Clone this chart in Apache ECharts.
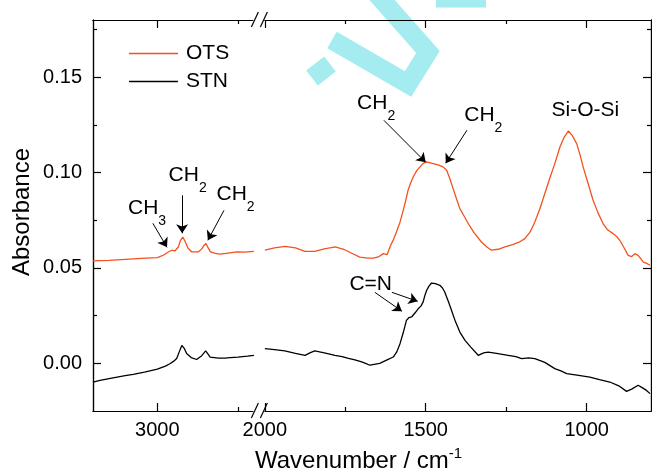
<!DOCTYPE html>
<html>
<head>
<meta charset="utf-8">
<script src="https://cdn.jsdelivr.net/npm/echarts@6/dist/echarts.min.js"></script>
<style>
  html, body { margin: 0; padding: 0; background: #fff; }
  #chart { width: 652px; height: 473px; }
</style>
</head>
<body>
<div id="chart"></div>
<script>
// wavenumber (cm-1) and absorbance
const otsLeftWn  = [3200, 3150, 3100, 3050, 3000, 2980, 2965, 2955, 2945, 2935, 2928, 2921, 2914, 2905, 2893, 2873, 2862, 2856, 2849, 2842, 2835, 2820, 2805, 2780, 2753, 2730, 2700]
const otsLeftAbs = [0.0537, 0.0540, 0.0545, 0.0550, 0.0554, 0.0568, 0.0585, 0.0593, 0.0590, 0.0610, 0.0645, 0.0662, 0.0640, 0.0605, 0.0584, 0.0584, 0.0600, 0.0616, 0.0628, 0.0605, 0.0584, 0.0576, 0.0572, 0.0578, 0.0584, 0.0583, 0.0587]

const stnLeftWn  = [3200, 3178, 3150, 3100, 3075, 3040, 3000, 2975, 2961, 2950, 2940, 2932, 2924, 2917, 2909, 2895, 2878, 2862, 2850, 2843, 2836, 2810, 2785, 2750, 2720, 2700]
const stnLeftAbs = [-0.0098, -0.0089, -0.0080, -0.0065, -0.0058, -0.0046, -0.0031, -0.0015, -0.0002, 0.0010, 0.0025, 0.0060, 0.0094, 0.0080, 0.0051, 0.0030, 0.0020, 0.0040, 0.0065, 0.0050, 0.0033, 0.0027, 0.0028, 0.0033, 0.0038, 0.0042]

const otsRightWn  = [2000, 1970, 1937, 1905, 1875, 1845, 1815, 1781, 1755, 1730, 1705, 1680, 1663, 1645, 1632, 1620, 1614, 1609, 1600, 1591, 1580, 1570, 1562, 1555, 1547, 1539, 1528, 1518, 1508, 1498, 1488, 1477, 1462, 1446, 1435, 1425, 1415, 1404, 1394, 1380, 1368, 1350, 1327, 1310, 1296, 1275, 1254, 1230, 1210, 1192, 1175, 1161, 1145, 1130, 1115, 1099, 1083, 1070, 1057, 1045, 1031, 1020, 1011, 995, 980, 965, 949, 935, 918, 905, 897, 885, 871, 860, 850, 840, 830, 824, 815, 803]
const otsRightAbs = [0.0593, 0.0605, 0.0613, 0.0605, 0.0587, 0.0587, 0.0600, 0.0610, 0.0598, 0.0577, 0.0557, 0.0552, 0.0552, 0.0560, 0.0575, 0.0570, 0.0566, 0.0619, 0.0650, 0.0689, 0.0740, 0.0802, 0.0855, 0.0907, 0.0945, 0.0977, 0.1010, 0.1030, 0.1048, 0.1056, 0.1052, 0.1047, 0.1040, 0.1030, 0.1012, 0.0968, 0.0916, 0.0860, 0.0811, 0.0770, 0.0733, 0.0685, 0.0636, 0.0610, 0.0593, 0.0598, 0.0610, 0.0622, 0.0635, 0.0654, 0.0690, 0.0741, 0.0812, 0.0890, 0.0968, 0.1047, 0.1134, 0.1185, 0.1218, 0.1195, 0.1152, 0.1090, 0.1030, 0.0940, 0.0855, 0.0790, 0.0733, 0.0700, 0.0680, 0.0662, 0.0645, 0.0610, 0.0566, 0.0560, 0.0575, 0.0566, 0.0545, 0.0531, 0.0525, 0.0514]

const stnRightWn  = [2000, 1970, 1938, 1905, 1875, 1860, 1845, 1815, 1782, 1760, 1740, 1720, 1699, 1685, 1674, 1660, 1643, 1620, 1601, 1590, 1580, 1570, 1560, 1552, 1544, 1533, 1523, 1515, 1508, 1502, 1497, 1490, 1482, 1470, 1456, 1448, 1441, 1430, 1420, 1408, 1394, 1378, 1360, 1337, 1320, 1306, 1280, 1244, 1220, 1202, 1180, 1161, 1130, 1099, 1080, 1062, 1030, 990, 960, 928, 900, 876, 860, 840, 825, 814, 803]
const stnRightAbs = [0.0077, 0.0072, 0.0065, 0.0052, 0.0042, 0.0055, 0.0065, 0.0055, 0.0042, 0.0035, 0.0026, 0.0018, 0.0007, -0.0002, -0.0010, -0.0005, 0.0000, 0.0018, 0.0033, 0.0060, 0.0103, 0.0160, 0.0225, 0.0240, 0.0243, 0.0265, 0.0287, 0.0300, 0.0322, 0.0360, 0.0383, 0.0405, 0.0421, 0.0418, 0.0409, 0.0395, 0.0374, 0.0325, 0.0278, 0.0220, 0.0164, 0.0120, 0.0085, 0.0042, 0.0055, 0.0059, 0.0052, 0.0042, 0.0035, 0.0025, 0.0028, 0.0025, 0.0005, -0.0028, -0.0040, -0.0054, -0.0062, -0.0072, -0.0085, -0.0098, -0.0118, -0.0147, -0.0135, -0.0115, -0.0130, -0.0142, -0.0159]

const xMajorTicks = [3000, 2000, 1500, 1000]
const xMinorTicks = [2750, 1750, 1250]
const yMajorTicks = [0, 0.05, 0.10, 0.15]
const yMinorTicks = [0.025, 0.075, 0.125, 0.175]

// annotations: [label, wavenumber, absorbance]
const peakLabels = [
  ['CH|3', 3032, 0.0788],
  ['CH|2', 2906, 0.0961],
  ['CH|2', 2757, 0.0861],
  ['CH|2', 1654, 0.1338],
  ['CH|2', 1321, 0.1276],
  ['Si-O-Si', 1004, 0.1327],
  ['C=N', 1671, 0.0414]
]
// arrows: [wn from, abs from, wn to, abs to]
const peakArrows = [
  [3014, 0.0734, 2970, 0.0608],
  [2923, 0.0881, 2923, 0.0682],
  [2793, 0.0802, 2843, 0.0645],
  [1630, 0.1274, 1500, 0.1054],
  [1372, 0.1222, 1438, 0.1049],
  [1658, 0.0372, 1574, 0.0273],
  [1605, 0.0372, 1525, 0.0325]
]

// broken axis: 3200-2700 on the left, 2000-800 on the right
const LEFT_START = 3200
const RIGHT_START = 2000
const GAP = 34
const BREAK_POS = 517
function toPos(w) {
  return w > 2350 ? LEFT_START - w : (LEFT_START - 2700) + GAP + (RIGHT_START - w)
}
function fromPos(p) {
  return p < BREAK_POS ? LEFT_START - p : RIGHT_START + (LEFT_START - 2700) + GAP - p
}
const X_MAX = toPos(800)

function pairs(wn, abs) {
  return wn.map((w, i) => [toPos(w), abs[i]])
}

const FONT = 'Liberation Sans, Arial, sans-serif'
const OTS_COLOR = '#f4511e'

const chart = echarts.init(document.getElementById('chart'))

function xAxisCfg(pos, ticks, len, labels) {
  return {
    type: 'value', position: pos, min: 0, max: X_MAX,
    axisLine: { show: true, onZero: false, lineStyle: { color: '#000', width: 1.2 } },
    axisTick: { show: true, inside: true, length: len, customValues: ticks.map(toPos), lineStyle: { color: '#000', width: 1.2 } },
    axisLabel: labels ? {
      show: true, customValues: ticks.map(toPos), margin: 9,
      color: '#000', fontSize: 20, fontFamily: FONT,
      formatter: v => String(Math.round(fromPos(v)))
    } : { show: false },
    splitLine: { show: false }
  }
}
function yAxisCfg(pos, ticks, len, labels) {
  return {
    type: 'value', position: pos, min: -0.025, max: 0.18,
    axisLine: { show: true, onZero: false, lineStyle: { color: '#000', width: 1.2 } },
    axisTick: { show: true, inside: true, length: len, customValues: ticks, lineStyle: { color: '#000', width: 1.2 } },
    axisLabel: labels ? {
      show: true, customValues: ticks, margin: 11,
      color: '#000', fontSize: 20, fontFamily: FONT,
      formatter: v => v.toFixed(2)
    } : { show: false },
    splitLine: { show: false }
  }
}

const lineBase = {
  type: 'line', showSymbol: false, symbol: 'none', animation: false,
  xAxisIndex: 0, yAxisIndex: 0
}

chart.setOption({
  backgroundColor: '#fff',
  animation: false,
  grid: { left: 93, right: 1, top: 20, bottom: 62 },
  legend: {
    data: ['OTS', 'STN'], orient: 'vertical', left: 129, top: 43, padding: 0,
    icon: 'rect', itemWidth: 49, itemHeight: 1.5, itemGap: 7,
    textStyle: { fontSize: 21, fontFamily: FONT, color: '#000', padding: [0, 0, 0, 3] }
  },
  xAxis: [
    xAxisCfg('bottom', xMajorTicks, 8, true),
    xAxisCfg('bottom', xMinorTicks, 4, false),
    xAxisCfg('top', xMajorTicks, 8, false),
    xAxisCfg('top', xMinorTicks, 4, false)
  ],
  yAxis: [
    yAxisCfg('left', yMajorTicks, 8, true),
    yAxisCfg('left', yMinorTicks, 4, false),
    yAxisCfg('right', yMajorTicks, 8, false),
    yAxisCfg('right', yMinorTicks, 4, false)
  ],
  series: [
    Object.assign({}, lineBase, { name: 'OTS', data: pairs(otsLeftWn, otsLeftAbs), color: OTS_COLOR, lineStyle: { color: OTS_COLOR, width: 1.3 } }),
    Object.assign({}, lineBase, { name: 'OTS', data: pairs(otsRightWn, otsRightAbs), color: OTS_COLOR, lineStyle: { color: OTS_COLOR, width: 1.3 } }),
    Object.assign({}, lineBase, { name: 'STN', data: pairs(stnLeftWn, stnLeftAbs), color: '#000', lineStyle: { color: '#000', width: 1.3 } }),
    Object.assign({}, lineBase, {
      name: 'STN', data: pairs(stnRightWn, stnRightAbs), color: '#000', lineStyle: { color: '#000', width: 1.3 },
      markLine: {
        silent: true, animation: false,
        symbol: ['none', 'arrow'], symbolSize: 9,
        lineStyle: { color: '#000', width: 1, type: 'solid' },
        label: { show: false },
        data: peakArrows.map(a => [{ coord: [toPos(a[0]), a[1]] }, { coord: [toPos(a[2]), a[3]] }])
      },
      markPoint: {
        silent: true, animation: false,
        symbol: 'circle', symbolSize: 1, itemStyle: { color: 'rgba(0,0,0,0)' },
        label: {
          show: true, position: 'inside', color: '#000', fontFamily: FONT,
          rich: {
            m: { fontSize: 21, fontFamily: FONT, color: '#000', padding: [0, 0, 10, 0], verticalAlign: 'bottom' },
            s: { fontSize: 14, fontFamily: FONT, color: '#000', verticalAlign: 'bottom' },
            p: { fontSize: 21, fontFamily: FONT, color: '#000' }
          }
        },
        data: peakLabels.map(l => {
          const parts = l[0].split('|')
          const text = parts.length > 1 ? '{m|' + parts[0] + '}{s|' + parts[1] + '}' : '{p|' + parts[0] + '}'
          return { coord: [toPos(l[1]), l[2]], label: { formatter: text } }
        })
      }
    })
  ]
})

// axis break marks, watermark and axis titles
const topPt = chart.convertToPixel({ gridIndex: 0 }, [BREAK_POS, 0.18])
const botPt = chart.convertToPixel({ gridIndex: 0 }, [BREAK_POS, -0.025])
function breakMark(cx, cy) {
  return [
    { type: 'rect', shape: { x: cx - 6, y: cy - 2, width: 11, height: 4 }, style: { fill: '#fff' }, z: 50 },
    { type: 'line', shape: { x1: cx - 8, y1: cy + 7, x2: cx - 1, y2: cy - 8 }, style: { stroke: '#000', lineWidth: 1.2 }, z: 51 },
    { type: 'line', shape: { x1: cx + 1, y1: cy + 7, x2: cx + 8, y2: cy - 8 }, style: { stroke: '#000', lineWidth: 1.2 }, z: 51 }
  ]
}
const WM = { stroke: '#a4ecf0', lineWidth: 19, lineJoin: 'miter', lineCap: 'butt', fill: null }
chart.setOption({
  graphic: [
    { type: 'polyline', z: 0, silent: true, shape: { points: [[312, 78], [330, 64]] }, style: WM },
    { type: 'polyline', z: 0, silent: true, shape: { points: [[332, 40], [408, 84], [428, 52], [375, -8]] }, style: WM },
    { type: 'polyline', z: 0, silent: true, shape: { points: [[436, -2], [486, -2]] }, style: WM },
    ...breakMark(topPt[0], topPt[1]),
    ...breakMark(botPt[0], botPt[1]),
    {
      type: 'text', x: 22, y: 212, rotation: Math.PI / 2, z: 60,
      style: { text: 'Absorbance', font: '24px ' + FONT, fill: '#000', textAlign: 'center', textVerticalAlign: 'middle' }
    },
    {
      type: 'text', left: 255, top: 446, z: 60,
      style: {
        text: '{n|Wavenumber / cm}{u|-1}', font: '24px ' + FONT, fill: '#000',
        rich: { n: { fontSize: 24, fontFamily: FONT, verticalAlign: 'bottom' }, u: { fontSize: 15, fontFamily: FONT, padding: [0, 0, 12, 0], verticalAlign: 'bottom' } }
      }
    }
  ]
})
</script>
</body>
</html>
